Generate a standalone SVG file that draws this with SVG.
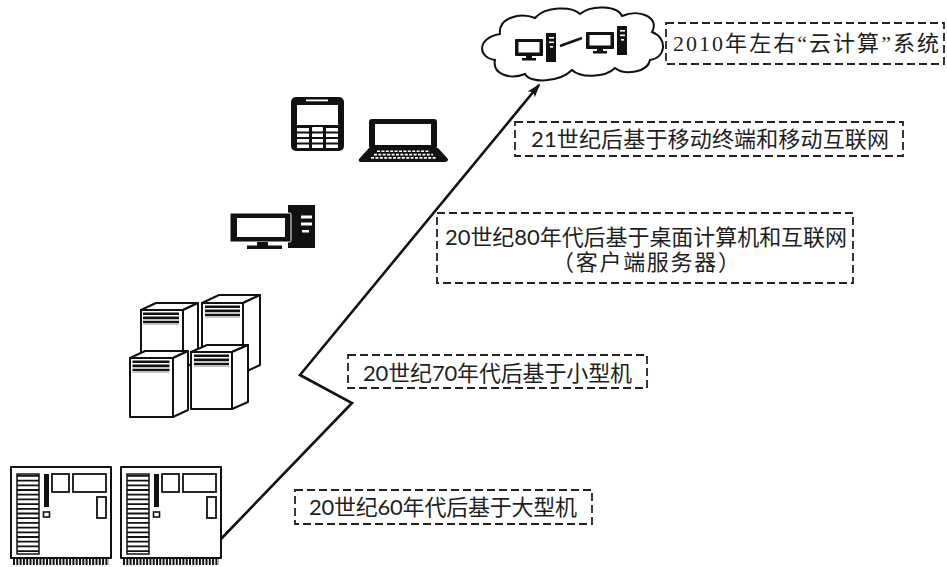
<svg xmlns="http://www.w3.org/2000/svg" width="947" height="567" viewBox="0 0 947 567">
  <style>
    .box { fill: none; stroke: #222; stroke-width: 1.8; stroke-dasharray: 8 4; }
    .lbl { font-family: Lato, "Noto Sans CJK SC", sans-serif; font-size: 22px; fill: #1e1e1e; }
    .lbl-serif { font-family: "Liberation Serif", "Noto Sans CJK SC", serif; font-size: 22px; fill: #1e1e1e; }
    .ol { fill: #fff; stroke: #111; stroke-width: 2; stroke-linejoin: round; }
    .ink { fill: #111; }
    .hole { fill: #fff; }
    .conn { fill: none; stroke: #111; stroke-width: 2.6; stroke-linejoin: miter; }
    .vent { stroke: #111; stroke-dasharray: 2.6 1.5; }
  </style>
  <defs>
    <marker id="arrowhead" markerUnits="userSpaceOnUse" markerWidth="16" markerHeight="10" viewBox="0 -5 16 10" refX="12" refY="0" orient="auto">
      <path d="M0,-4.5 L14,0 L0,4.5 L3,0 z" fill="#111"/>
    </marker>
    <!-- mainframe cabinet, origin at top-left of the case -->
    <g id="cabinet">
      <rect class="ol" x="0" y="0" width="100" height="91"/>
      <rect x="6" y="7" width="22" height="80" fill="#fff" stroke="#111" stroke-width="1.5"/>
      <line x1="17" y1="8" x2="17" y2="86" stroke="#111" stroke-width="22" stroke-dasharray="1.8 2.9"/>
      <rect class="ink" x="33" y="7" width="5" height="33"/>
      <rect x="32.5" y="45" width="6" height="5" fill="none" stroke="#111" stroke-width="1.6"/>
      <rect x="41" y="7" width="17" height="18" fill="none" stroke="#111" stroke-width="1.8"/>
      <rect x="62" y="7" width="33" height="18" fill="none" stroke="#111" stroke-width="1.8"/>
      <rect x="86" y="30" width="9" height="21" fill="none" stroke="#111" stroke-width="1.8"/>
      <line x1="2" y1="94.5" x2="98" y2="94.5" stroke="#111" stroke-width="7" stroke-dasharray="2 1.3"/>
    </g>
    <!-- small desktop used inside the cloud, origin at monitor top-left -->
    <g id="mini-pc">
      <rect class="ink" x="0" y="0" width="28" height="17" rx="1"/>
      <rect class="hole" x="3.5" y="3" width="21" height="10.5"/>
      <rect class="ink" x="11" y="17" width="6" height="2.5"/>
      <rect class="ink" x="7" y="19" width="14" height="2.5"/>
      <rect class="ink" x="31" y="-6" width="10" height="29"/>
      <rect class="hole" x="34" y="-2" width="5" height="1.6"/>
      <rect class="hole" x="34" y="2.5" width="5" height="1.6"/>
      <rect class="hole" x="35" y="7" width="3" height="1.6"/>
    </g>
  </defs>

  <!-- evolution arrow -->
  <g id="connectors">
    <polyline class="conn" points="220,540 352,403 300,375 539,85" marker-end="url(#arrowhead)"/>
  </g>

  <!-- mainframes -->
  <g id="mainframe">
    <use href="#cabinet" transform="translate(11,467)"/>
    <use href="#cabinet" transform="translate(121,467)"/>
  </g>
  <g id="label-1960s">
    <rect class="box" x="295" y="490" width="297" height="34"/>
    <text class="lbl" x="309" y="515" textLength="268" lengthAdjust="spacing">20世纪60年代后基于大型机</text>
  </g>

  <!-- minicomputers, painted back to front -->
  <g id="minicomputer">
    <g>
      <polygon class="ol" points="141,310 156,303 198,303 183,310"/>
      <polygon class="ol" points="183,310 198,303 198,361 183,368"/>
      <rect class="ol" x="141" y="310" width="42" height="58"/>
      <line class="vent" x1="161" y1="312.5" x2="161" y2="325" stroke-width="36"/>
    </g>
    <g>
      <polygon class="ol" points="202,303 219,295 260,295 243,303"/>
      <polygon class="ol" points="243,303 260,295 260,365 243,373"/>
      <rect class="ol" x="202" y="303" width="41" height="70"/>
      <line class="vent" x1="222.5" y1="305.5" x2="222.5" y2="318" stroke-width="35"/>
    </g>
    <g>
      <polygon class="ol" points="130,358 145,351 188,351 173,358"/>
      <polygon class="ol" points="173,358 188,351 188,410 173,417"/>
      <rect class="ol" x="130" y="358" width="43" height="59"/>
      <line class="vent" x1="151" y1="360.5" x2="151" y2="373" stroke-width="37"/>
    </g>
    <g>
      <polygon class="ol" points="191,352 207,345 248,345 232,352"/>
      <polygon class="ol" points="232,352 248,345 248,402 232,409"/>
      <rect class="ol" x="191" y="352" width="41" height="57"/>
      <line class="vent" x1="211.5" y1="354.5" x2="211.5" y2="367" stroke-width="35"/>
    </g>
  </g>
  <g id="label-1970s">
    <rect class="box" x="348" y="355" width="299" height="33"/>
    <text class="lbl" x="363" y="381" textLength="269" lengthAdjust="spacing">20世纪70年代后基于小型机</text>
  </g>

  <!-- desktop computer -->
  <g id="desktop">
    <rect class="ink" x="288" y="205" width="27" height="43"/>
    <rect class="hole" x="301" y="215.5" width="11" height="3"/>
    <rect class="hole" x="301" y="222.5" width="11" height="3"/>
    <rect class="hole" x="302" y="230" width="7" height="2.5"/>
    <rect x="230" y="213" width="61" height="29" rx="1.5" fill="#111" stroke="#fff" stroke-width="1"/>
    <rect class="hole" x="237" y="218" width="48" height="19"/>
    <rect class="ink" x="257" y="242" width="11" height="4"/>
    <rect class="ink" x="247" y="245.5" width="35" height="3.5"/>
  </g>
  <g id="label-1980s">
    <rect class="box" x="437" y="213" width="416" height="70"/>
    <text class="lbl" x="445" y="245" textLength="402" lengthAdjust="spacing">20世纪80年代后基于桌面计算机和互联网</text>
    <text class="lbl" x="646" y="270" text-anchor="middle" textLength="188" lengthAdjust="spacing">（客户端服务器）</text>
  </g>

  <!-- mobile phone and laptop -->
  <g id="mobile">
    <rect class="ink" x="291" y="97" width="53" height="54" rx="5"/>
    <rect class="hole" x="306" y="99.5" width="22" height="1.8"/>
    <rect class="hole" x="297" y="105" width="41" height="20"/>
    <g class="hole">
      <rect x="297" y="128" width="12" height="3.5"/><rect x="312" y="127" width="11" height="4.5" rx="1"/><rect x="326" y="128" width="12" height="3.5"/>
      <rect x="297" y="133.5" width="12" height="3.5"/><rect x="312" y="133.5" width="11" height="3.5"/><rect x="326" y="133.5" width="12" height="3.5"/>
      <rect x="297" y="139" width="12" height="3.5"/><rect x="312" y="139" width="11" height="3.5"/><rect x="326" y="139" width="12" height="3.5"/>
      <rect x="297" y="144.5" width="12" height="3.5"/><rect x="312" y="144.5" width="11" height="3.5"/><rect x="326" y="144.5" width="12" height="3.5"/>
    </g>
    <rect class="ink" x="369" y="119" width="68" height="30" rx="3"/>
    <rect class="hole" x="375" y="124" width="56" height="21"/>
    <path class="ink" d="M369,148 L438,148 L448,159 Q448,162 445,162 L361,162 Q358,162 359,159 Z"/>
    <line x1="377" y1="151.3" x2="430" y2="151.3" stroke="#fff" stroke-width="1.6" stroke-dasharray="3 1.4"/>
    <line x1="374" y1="154.6" x2="433" y2="154.6" stroke="#fff" stroke-width="1.6" stroke-dasharray="3 1.4"/>
    <line x1="371" y1="157.9" x2="436" y2="157.9" stroke="#fff" stroke-width="1.6" stroke-dasharray="3 1.4"/>
  </g>
  <g id="label-2000s">
    <rect class="box" x="515" y="122" width="388" height="34"/>
    <text class="lbl" x="531" y="147" textLength="358" lengthAdjust="spacing">21世纪后基于移动终端和移动互联网</text>
  </g>

  <!-- cloud with two linked computers -->
  <g id="cloud">
    <path d="M495,60 C478,58 476,38 500,34 C498,18 520,12 535,18 C545,6 572,6 580,14 C592,4 618,6 622,16 C640,8 660,18 652,32 C668,38 666,58 650,60 C648,72 625,76 615,68 C605,78 580,78 572,70 C560,82 530,84 525,74 C510,80 492,74 495,60 Z" fill="#fff" stroke="#111" stroke-width="2"/>
    <use href="#mini-pc" transform="translate(515,39)"/>
    <use href="#mini-pc" transform="translate(586,32)"/>
    <line x1="560" y1="46" x2="582" y2="38" stroke="#111" stroke-width="2.5"/>
  </g>
  <g id="label-2010">
    <rect class="box" x="666" y="23" width="278" height="41"/>
    <text class="lbl-serif" x="673" y="51" textLength="266" lengthAdjust="spacing">2010年左右“云计算”系统</text>
  </g>
</svg>
